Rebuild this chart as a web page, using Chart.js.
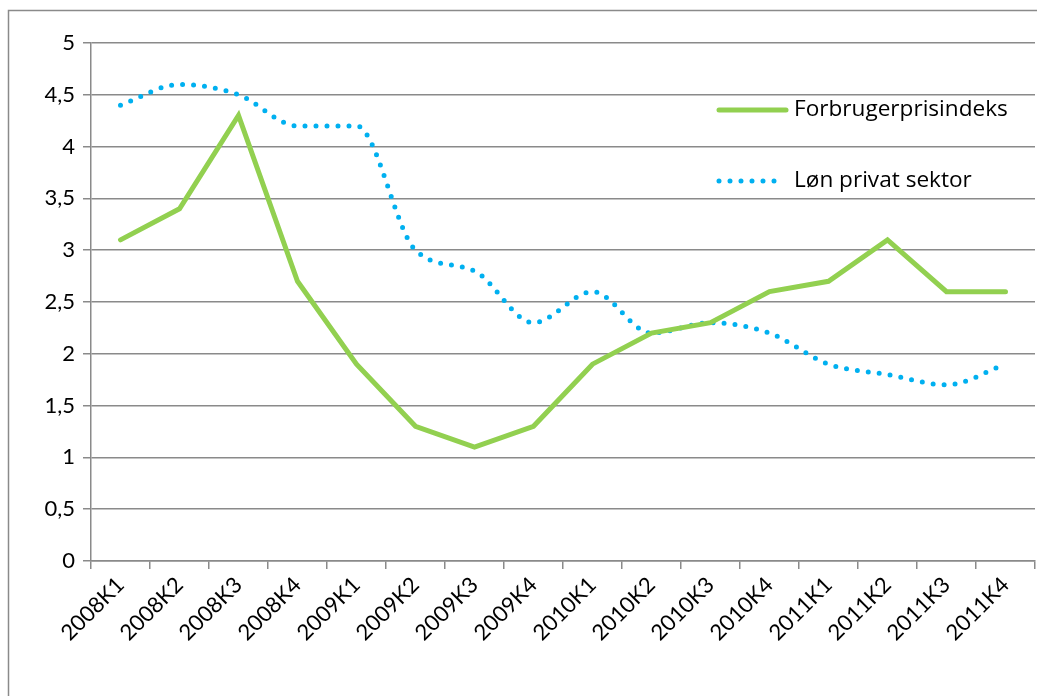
<!DOCTYPE html>
<html>
<head>
<meta charset="utf-8">
<script src="https://cdn.jsdelivr.net/npm/chart.js"></script>
<style>
    html, body { margin: 0; padding: 0; background: #fff; }
    #wrap { position: relative; width: 1037px; height: 696px; }
</style>
</head>
<body>
<div id="wrap"><canvas id="chart" width="1037" height="696"></canvas></div>
<script>
// Quarters and series values
const quarters = ['2008K1', '2008K2', '2008K3', '2008K4', '2009K1', '2009K2', '2009K3', '2009K4',
                  '2010K1', '2010K2', '2010K3', '2010K4', '2011K1', '2011K2', '2011K3', '2011K4'];
const forbrugerpris = [3.1, 3.4, 4.3, 2.7, 1.9, 1.3, 1.1, 1.3, 1.9, 2.2, 2.3, 2.6, 2.7, 3.1, 2.6, 2.6];
const loenPrivat = [4.4, 4.6, 4.5, 4.2, 4.2, 3.0, 2.8, 2.3, 2.6, 2.2, 2.3, 2.2, 1.9, 1.8, 1.7, 1.9];
const yTicks = [0, 0.5, 1, 1.5, 2, 2.5, 3, 3.5, 4, 4.5, 5];

const GREEN = '#92D050';
const BLUE = '#00B0F0';
const GRID = '#8a8a8a';
const FONT = "Lato, 'Open Sans', sans-serif";
const LEGEND_FONT = "'Open Sans', Lato, sans-serif";

// Outer frame (only the top and left edges are visible in the picture)
const framePlugin = {
    id: 'frame',
    beforeDraw(chart) {
        const ctx = chart.ctx;
        ctx.save();
        ctx.strokeStyle = '#8a8a8a';
        ctx.lineWidth = 1.5;
        ctx.strokeRect(8.5, 10.5, 1200, 900);
        ctx.restore();
    }
};

// Legend sits inside the plot, upper right
const innerLegend = {
    id: 'innerLegend',
    afterDraw(chart) {
        const ctx = chart.ctx;
        const rows = [{ y: 110, end: 786 }, { y: 181, end: 778 }];
        ctx.save();
        chart.data.datasets.forEach((ds, i) => {
            const y = rows[i].y;
            ctx.beginPath();
            ctx.strokeStyle = ds.borderColor;
            ctx.lineWidth = ds.borderWidth;
            ctx.lineCap = 'round';
            ctx.setLineDash(ds.borderDash || []);
            ctx.moveTo(719, y);
            ctx.lineTo(rows[i].end, y);
            ctx.stroke();
            ctx.setLineDash([]);
            ctx.fillStyle = '#000';
            ctx.font = '22.6px ' + LEGEND_FONT;
            ctx.textBaseline = 'middle';
            ctx.fillText(ds.label, 794, y);
        });
        ctx.restore();
    }
};

new Chart(document.getElementById('chart'), {
    type: 'line',
    data: {
        labels: quarters,
        datasets: [{
            label: 'Forbrugerprisindeks',
            data: forbrugerpris,
            borderColor: GREEN,
            backgroundColor: GREEN,
            borderWidth: 5,
            borderJoinStyle: 'miter',
            borderCapStyle: 'round',
            pointRadius: 0,
            tension: 0
        }, {
            label: 'Løn privat sektor',
            data: loenPrivat,
            borderColor: BLUE,
            backgroundColor: BLUE,
            borderWidth: 5,
            borderDash: [0, 11],
            borderCapStyle: 'round',
            pointRadius: 0,
            cubicInterpolationMode: 'monotone'
        }]
    },
    options: {
        responsive: false,
        animation: false,
        layout: { padding: { left: 0, top: 43, right: 2, bottom: 0 } },
        plugins: {
            legend: { display: false },
            tooltip: { enabled: false }
        },
        scales: {
            x: {
                offset: true,
                afterFit(scale) { scale.height = 135; },
                grid: {
                    display: true,
                    drawOnChartArea: false,
                    offset: true,
                    color: GRID,
                    lineWidth: 1.5,
                    tickLength: 8
                },
                border: { color: GRID, width: 1.5 },
                ticks: {
                    minRotation: 45,
                    maxRotation: 45,
                    autoSkip: false,
                    padding: 3,
                    color: '#000',
                    font: { family: FONT, size: 22 }
                }
            },
            y: {
                min: 0,
                max: 5,
                afterFit(scale) { scale.width = 91; },
                afterBuildTicks(scale) { scale.ticks = yTicks.map(v => ({ value: v })); },
                grid: {
                    color: GRID,
                    lineWidth: 1.5,
                    tickLength: 8
                },
                border: { color: GRID, width: 1.5 },
                ticks: {
                    padding: 8,
                    color: '#000',
                    font: { family: FONT, size: 22 },
                    callback: v => String(v).replace('.', ',')
                }
            }
        }
    },
    plugins: [framePlugin, innerLegend]
});
</script>
</body>
</html>
